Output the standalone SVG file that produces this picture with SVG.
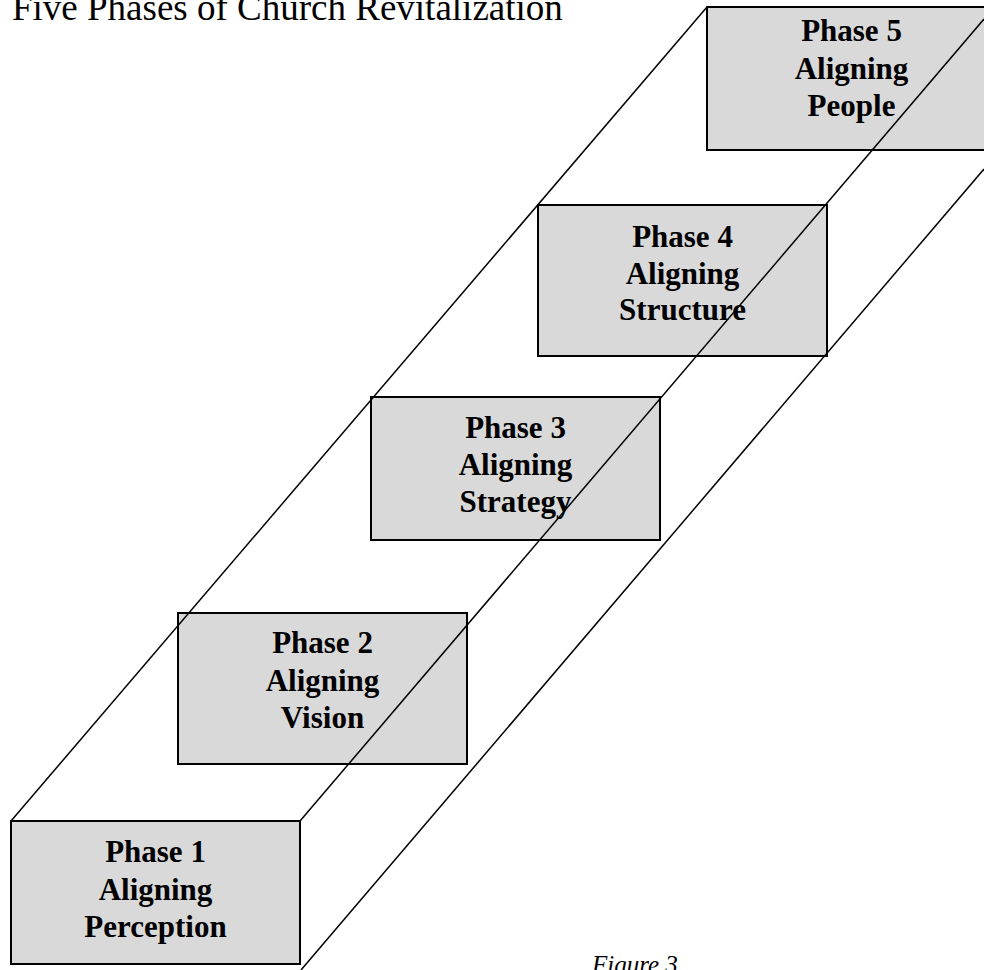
<svg xmlns="http://www.w3.org/2000/svg" width="984" height="970" viewBox="0 0 984 970">
  <style>
    .phase rect { fill: #d9d9d9; stroke: #000; stroke-width: 2; }
    .phase text { font-family: "Liberation Serif", "Times New Roman", serif; font-weight: bold; font-size: 31px; text-anchor: middle; fill: #000; }
    .edges line { stroke: #000; stroke-width: 1.5; }
    .title { font-family: "Liberation Serif", "Times New Roman", serif; font-size: 37px; fill: #000; }
    .caption { font-family: "Liberation Serif", "Times New Roman", serif; font-style: italic; font-size: 25px; fill: #000; }
  </style>
  <rect width="984" height="970" fill="#fff"/>

  <text class="title" x="12" y="20">Five Phases of Church Revitalization</text>

  <g id="phase1" class="phase">
    <rect x="11" y="821" width="289" height="143"/>
    <text x="155.5" y="862">Phase 1</text>
    <text x="155.5" y="900">Aligning</text>
    <text x="155.5" y="937">Perception</text>
  </g>
  <g id="phase2" class="phase">
    <rect x="178" y="613" width="289" height="151"/>
    <text x="322.5" y="653">Phase 2</text>
    <text x="322.5" y="691">Aligning</text>
    <text x="322.5" y="728">Vision</text>
  </g>
  <g id="phase3" class="phase">
    <rect x="371" y="397" width="289" height="143"/>
    <text x="515.5" y="438">Phase 3</text>
    <text x="515.5" y="475">Aligning</text>
    <text x="515.5" y="512">Strategy</text>
  </g>
  <g id="phase4" class="phase">
    <rect x="538" y="205" width="289" height="151"/>
    <text x="682.5" y="247">Phase 4</text>
    <text x="682.5" y="284">Aligning</text>
    <text x="682.5" y="320">Structure</text>
  </g>
  <g id="phase5" class="phase">
    <rect x="707" y="7" width="289" height="143"/>
    <text x="851.5" y="41">Phase 5</text>
    <text x="851.5" y="79">Aligning</text>
    <text x="851.5" y="116">People</text>
  </g>

  <!-- prism edges running from the front face up to the back face -->
  <g id="edges" class="edges">
    <line x1="11" y1="821" x2="707" y2="7"/>
    <line x1="300" y1="821" x2="984" y2="19"/>
    <line x1="301" y1="970" x2="984" y2="169"/>
  </g>

  <text class="caption" x="592" y="973">Figure 3</text>
</svg>
